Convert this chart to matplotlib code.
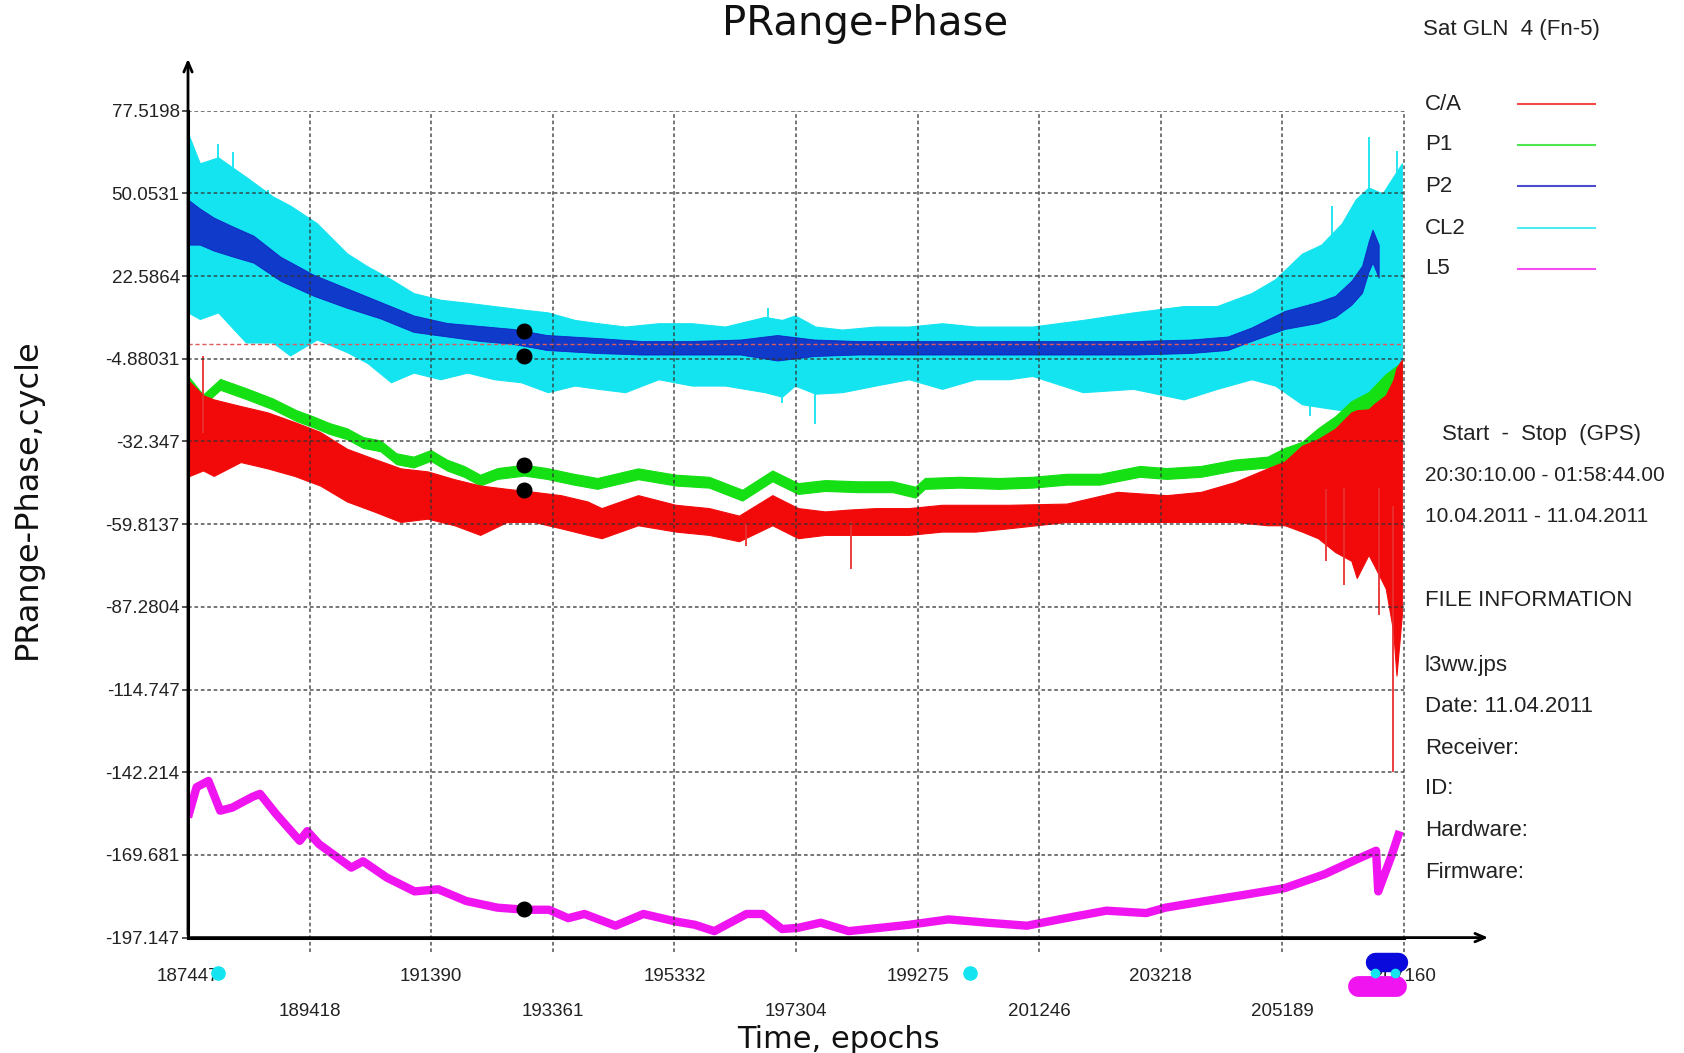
import numpy as np
import matplotlib
matplotlib.use("Agg")
import matplotlib.pyplot as plt

NARROW = ["Liberation Sans Narrow", "Liberation Sans", "DejaVu Sans"]
REGULAR = ["Liberation Sans", "DejaVu Sans"]
WIDE = ["DejaVu Sans"]

# ---------------- axis ticks ----------------
y_ticks = [77.5198, 50.0531, 22.5864, -4.88031, -32.347, -59.8137,
           -87.2804, -114.747, -142.214, -169.681, -197.147]
y_tick_labels = ["77.5198", "50.0531", "22.5864", "-4.88031", "-32.347",
                 "-59.8137", "-87.2804", "-114.747", "-142.214", "-169.681",
                 "-197.147"]
x_ticks = [187447, 189418, 191390, 193361, 195332, 197304, 199275,
           201246, 203218, 205189, 207160]
x_tick_labels = ["187447", "189418", "191390", "193361", "195332", "197304",
                 "199275", "201246", "203218", "205189", "207160"]

# ---------------- CL2 (envelope of the noisy trace) ----------------
cl2_epoch = [187447, 187639, 187935, 188387, 188823, 189101, 189537, 190024,
             190355, 190738, 191104, 191539, 191975, 192410, 192845, 193281,
             193716, 194099, 194534, 195074, 195614, 196154, 196798, 197077,
             197286, 197617, 198052, 198592, 199132, 199672, 200212, 200751,
             201134, 201953, 202771, 203589, 204129, 204687, 205070, 205505,
             205818, 206149, 206376, 206585, 206811, 206968, 207125]
cl2_hi = [70.0, 60.0, 62.0, 55.5, 49.0, 46.0, 40.1, 30.1, 25.8, 21.5, 16.9,
          14.7, 13.7, 12.6, 11.5, 10.5, 8.0, 6.9, 5.8, 6.9, 6.9, 5.8, 9.0,
          8.0, 9.5, 5.8, 4.8, 5.8, 5.8, 6.9, 5.8, 5.8, 5.8, 8.0, 10.5, 12.6,
          12.6, 16.9, 21.5, 30.0, 33.0, 40.0, 48.0, 52.0, 50.0, 55.0, 60.0]
cl2_lo = [10.5, 8.3, 10.5, 0.5, 0.5, -3.8, 1.5, -2.7, -6.3, -12.7, -9.5,
          -11.7, -9.5, -11.7, -12.7, -16.0, -13.8, -14.9, -16.0, -11.7, -13.8,
          -13.8, -16.0, -17.5, -13.8, -16.5, -16.0, -13.8, -11.7, -14.9, -11.7,
          -11.7, -10.6, -16.0, -14.9, -18.4, -14.9, -11.7, -13.8, -20.0, -21.0,
          -22.0, -24.0, -18.4, -22.7, -11.7, -6.3]
# isolated tall excursions of the CL2 trace
cl2_spike_epoch = [187447, 187935, 188178, 188736, 196850, 197077, 197617,
                   205640, 206000, 206376, 206585, 206700, 207040]
cl2_spike_tip = [77.5, 66.5, 63.7, 51.1, 12.0, -19.5, -26.6,
                 -24.0, 46.0, -27.0, 68.6, -26.0, 64.0]

# ---------------- P2 ----------------
p2_epoch = [187447, 187639, 187865, 188178, 188509, 188945, 189484, 190024,
            190564, 191104, 191644, 192183, 192723, 193263, 194082, 194800,
            195600, 196400, 197000, 197600, 198300, 199200, 200100, 201000,
            201900, 202800, 203700, 204300, 204687, 205227, 205766, 206045,
            206306, 206480, 206585, 206650, 206750]
p2_hi = [48, 45, 42, 39, 36, 29, 23, 18.5, 14, 9.5, 7, 6, 5, 3, 2, 1, 1, 1.5,
         3, 1.5, 1, 1, 1, 1, 1, 1, 1.5, 2.5, 5.5, 11, 14, 16, 21, 26, 34, 38,
         33]
p2_lo = [33, 33, 31, 29, 27, 21, 16, 12, 8.5, 4, 2.5, 1, 0, -2, -3, -3.5,
         -3.5, -3.5, -5.5, -4, -3.5, -3.5, -3.5, -3.5, -3.5, -3.5, -3, -2, 1, 5,
         7, 9, 13, 17, 24, 27, 22]

# ---------------- P1 ----------------
p1_epoch = [187447, 187691, 187969, 188405, 188823, 189206, 189484, 189746,
            190024, 190285, 190564, 190825, 191104, 191382, 191644, 191922,
            192183, 192462, 192898, 193263, 193699, 194082, 194743, 195353,
            195893, 196433, 196920, 197338, 197773, 198313, 198871, 199236,
            199393, 199950, 200594, 201134, 201692, 202231, 202876, 203311,
            203869, 204408, 204948, 205227, 205505, 205766, 206045, 206306,
            206585, 206864, 207125]
p1_hi = [-10.6, -16.8, -11.6, -14.8, -18.1, -22.0, -24.1, -26.3, -28.0, -30.9,
         -32.0, -36.3, -37.4, -35.2, -38.4, -40.5, -43.4, -41.2, -40.1, -41.2,
         -43.1, -44.5, -41.3, -43.4, -44.1, -48.4, -42.0, -46.2, -45.2, -45.6,
         -45.6, -47.4, -44.5, -44.1, -44.5, -44.1, -43.1, -43.1, -40.5, -41.2,
         -40.5, -38.4, -37.4, -34.5, -32.5, -28.0, -24.0, -19.0, -16.0, -10.0,
         -6.0]
p1_lo = [-14.2, -20.4, -15.2, -18.4, -21.7, -25.6, -27.7, -29.9, -31.6, -34.5,
         -35.6, -39.9, -41.0, -38.8, -42.0, -44.1, -47.0, -44.8, -43.7, -44.8,
         -46.7, -48.1, -44.9, -47.0, -47.7, -52.0, -45.6, -49.8, -48.8, -49.2,
         -49.2, -51.0, -48.1, -47.7, -48.1, -47.7, -46.7, -46.7, -44.1, -44.8,
         -44.1, -42.0, -41.0, -39.5, -39.3, -37.0, -35.0, -36.0, -37.0, -32.0,
         -28.0]

# ---------------- C/A ----------------
ca_epoch = [187447, 187691, 187865, 188300, 188736, 189171, 189589, 190024,
            190460, 190895, 191330, 191766, 192183, 192619, 193054, 193490,
            193925, 194151, 194743, 195353, 195893, 196380, 196920, 197338,
            197773, 198156, 198592, 199132, 199672, 200212, 200751, 201692,
            202510, 203311, 203869, 204408, 204948, 205227, 205505, 205766,
            206045, 206306, 206394, 206585, 206672, 206864, 206986, 207038,
            207125]
ca_hi = [-12.0, -17.0, -18.4, -20.6, -22.7, -25.9, -29.2, -34.8, -38.1, -41.3,
         -42.3, -44.9, -47.0, -48.1, -49.1, -50.2, -52.3, -54.5, -50.2, -53.4,
         -54.5, -57.0, -50.2, -54.5, -55.6, -55.0, -54.5, -54.5, -53.4, -53.4,
         -53.4, -53.0, -49.1, -50.2, -49.1, -45.9, -41.3, -39.0, -33.8, -31.6,
         -28.1, -22.7, -22.0, -21.7, -20.0, -17.0, -12.0, -8.0, -5.2]
ca_lo = [-44.0, -42.0, -43.8, -39.2, -41.3, -43.8, -47.0, -52.3, -55.6, -59.1,
         -58.0, -60.2, -63.4, -59.1, -59.1, -61.2, -63.4, -64.5, -60.2, -62.3,
         -63.4, -65.5, -60.2, -64.5, -63.4, -63.4, -63.4, -63.4, -62.3, -62.3,
         -61.2, -59.1, -59.1, -59.1, -59.1, -59.1, -60.2, -60.2, -62.3, -64.5,
         -69.1, -72.0, -77.7, -70.0, -73.4, -81.2, -95.5, -110.1, -90.0]
ca_spike_epoch = [187691, 196500, 198190, 205900, 206180, 206760, 206986]
ca_spike_tip = [-4.0, -67.0, -74.8, -72.0, -80.0, -90.0, -142.2]

# ---------------- L5 ----------------
l5_epoch = [187447, 187586, 187778, 187969, 188161, 188492, 188614, 188875,
            189258, 189380, 189571, 190094, 190285, 190669, 191121, 191504,
            191957, 192462, 192915, 193298, 193611, 193873, 194378, 194830,
            195353, 195666, 195980, 196502, 196763, 197077, 197338, 197704,
            198156, 199132, 199776, 200403, 201047, 201570, 202336, 202980,
            203294, 203938, 204583, 205227, 205871, 206324, 206707, 206742,
            206969, 207090]
l5_val = [-157.2, -147.2, -145.1, -155.0, -154.0, -150.4, -149.4, -156.1,
          -165.0, -161.8, -166.1, -173.9, -171.8, -177.2, -181.8, -181.1,
          -185.0, -187.2, -187.9, -187.9, -190.7, -189.3, -193.2, -189.3,
          -191.8, -192.9, -195.0, -189.3, -189.3, -194.3, -193.9, -192.2,
          -195.0, -192.9, -191.1, -192.2, -193.2, -191.1, -188.2, -189.0,
          -187.2, -185.0, -182.9, -180.7, -176.1, -171.8, -168.3, -181.8,
          -169.3, -161.8]

# ---------------- cursor points and event marks ----------------
cursor_epoch = 192898
cursor_vals = [4.3, -3.9, -40.3, -48.6, -187.5]
slip_epoch = [187935, 200124]
slip_val = -208.9
p2_mark_epoch = [206690, 207055]
p2_mark_val = -205.2
l5_mark_epoch = [206410, 207037]
l5_mark_val = -213.2
cl2_mark_epoch = [206690, 207020]
cl2_mark_val = -208.9

series_names = ["C/A", "P1", "P2", "CL2", "L5"]
colors = {"C/A": "#f20a0a", "P1": "#14e014", "P2": "#1010c0",
          "CL2": "#14e4f0", "L5": "#f014f0"}

# ---------------- figure ----------------
W, H = 1684, 1053
fig = plt.figure(figsize=(W / 100, H / 100), dpi=100)
x0, x1, ytop, ybot = 188, 1404, 110.6, 937.6
ax = fig.add_axes([x0 / W, 1 - ybot / H, (x1 - x0) / W, (ybot - ytop) / H])
ax.set_xlim(x_ticks[0], x_ticks[-1])
ax.set_ylim(y_ticks[-1], y_ticks[0])

for s in ("top", "right"):
    ax.spines[s].set_visible(False)
for s in ("left", "bottom"):
    ax.spines[s].set_linewidth(2.2)
    ax.spines[s].set_color("black")
    ax.spines[s].set_zorder(6)

# axis arrows
arrow_kw = dict(arrowstyle="->,head_length=0.7,head_width=0.3", lw=2.0,
                color="black")
ax.annotate("", xy=(0, 1.066), xytext=(0, 0), xycoords="axes fraction",
            textcoords="axes fraction", arrowprops=arrow_kw,
            annotation_clip=False, zorder=7)
ax.annotate("", xy=(1.0715, 0), xytext=(0, 0), xycoords="axes fraction",
            textcoords="axes fraction", arrowprops=arrow_kw,
            annotation_clip=False, zorder=7)


def spikes(epochs, tips, ep, lo, hi, color, z):
    mid = (np.interp(epochs, ep, lo) + np.interp(epochs, ep, hi)) / 2
    ax.vlines(epochs, mid, tips, color=color, lw=1.3, zorder=z)


# series
ax.fill_between(cl2_epoch, cl2_lo, cl2_hi, color=colors["CL2"], lw=0.8,
                edgecolor=colors["CL2"], zorder=2)
spikes(cl2_spike_epoch, cl2_spike_tip, cl2_epoch, cl2_lo, cl2_hi,
       colors["CL2"], 2)
ax.fill_between(p2_epoch, p2_lo, p2_hi, color=colors["P2"], lw=0.6,
                edgecolor=colors["P2"], zorder=2.2, alpha=0.8)
ax.fill_between(p1_epoch, p1_lo, p1_hi, color=colors["P1"], lw=0.8,
                edgecolor=colors["P1"], zorder=2)
ax.fill_between(ca_epoch, ca_lo, ca_hi, color=colors["C/A"], lw=0.8,
                edgecolor=colors["C/A"], zorder=2.3)
spikes(ca_spike_epoch, ca_spike_tip, ca_epoch, ca_lo, ca_hi, "#e83030", 2.3)
ax.plot(l5_epoch, l5_val, color=colors["L5"], lw=6.0, zorder=2,
        solid_joinstyle="round", solid_capstyle="butt")

# grid
grid_kw = dict(color="#333333", lw=1.1, ls=(0, (2.4, 1.8)), zorder=4,
               alpha=0.85)
for v in y_ticks[:-1]:
    ax.axhline(v, **grid_kw)
for v in x_ticks[1:]:
    ax.axvline(v, ymin=-0.018, ymax=1, clip_on=False, **grid_kw)
ax.axhline(0, color="#e05a5a", lw=1.0, ls=(0, (3, 2)), zorder=4)

# cursor dots
ax.plot([cursor_epoch] * len(cursor_vals), cursor_vals, "o", color="black",
        ms=10.5, zorder=5)
# marks beneath the time axis
ax.plot(slip_epoch, [slip_val] * len(slip_epoch), "o", color=colors["CL2"],
        ms=9.5, clip_on=False, zorder=5)
ax.plot(l5_mark_epoch, [l5_mark_val] * 2, color=colors["L5"], lw=15,
        solid_capstyle="round", clip_on=False, zorder=8)
ax.plot(p2_mark_epoch, [p2_mark_val] * 2, color="#0a0adc", lw=14,
        solid_capstyle="round", clip_on=False, zorder=8)
ax.plot(cl2_mark_epoch, [cl2_mark_val] * 2, "o", color=colors["CL2"],
        ms=6, clip_on=False, zorder=9)

# ticks
ax.set_yticks(y_ticks)
ax.set_yticklabels(y_tick_labels)
ax.tick_params(axis="y", length=4, width=1.2, pad=2, color="#333333")
ax.set_xticks(x_ticks[0::2])
ax.set_xticklabels(x_tick_labels[0::2])
ax.set_xticks(x_ticks[1::2], minor=True)
ax.set_xticklabels(x_tick_labels[1::2], minor=True)
ax.tick_params(axis="x", which="both", length=0)
ax.tick_params(axis="x", which="major", pad=22)
ax.tick_params(axis="x", which="minor", pad=47)
for lab in (ax.get_yticklabels() + ax.get_xticklabels()
            + ax.get_xticklabels(minor=True)):
    lab.set_fontfamily(NARROW)
    lab.set_fontsize(13.5)
    lab.set_color("#222222")

# titles and axis labels
fig.text(865 / W, 1 - 24 / H, "PRange-Phase", fontsize=29, family=WIDE,
         ha="center", va="center", color="#111111")
fig.text(838 / W, 1 - 1039 / H, "Time, epochs", fontsize=22, family=WIDE,
         ha="center", va="center", color="#111111")
fig.text(27 / W, 1 - 499 / H, "PRange-Phase,cycle", fontsize=23, family=WIDE,
         ha="center", va="center", rotation=90, color="#111111")

# right-hand panel
fig.text(1423 / W, 1 - 29 / H, "Sat GLN  4 (Fn-5)", fontsize=16,
         family=REGULAR, ha="left", va="center", color="#222222")
legend_y = [104, 145, 186, 228, 268.5]
for name, yy in zip(series_names, legend_y):
    fig.text(1425 / W, 1 - yy / H, name, fontsize=16, family=REGULAR,
             ha="left", va="center", color="#222222")
    fig.add_artist(plt.Line2D([1518 / W, 1595 / W], [1 - yy / H] * 2,
                              color=colors[name], lw=1.5, alpha=0.75))

info_lines = [
    (1442, 435, "Start  -  Stop  (GPS)", 16),
    (1425, 476, "20:30:10.00 - 01:58:44.00", 15),
    (1425, 517, "10.04.2011 - 11.04.2011", 15),
    (1425, 601, "FILE INFORMATION", 16),
    (1425, 665, "l3ww.jps", 16),
    (1425, 707, "Date: 11.04.2011", 16),
    (1425, 748, "Receiver:", 16),
    (1425, 789, "ID:", 16),
    (1425, 830, "Hardware:", 16),
    (1425, 872, "Firmware:", 16),
]
for px, py, txt, fs in info_lines:
    fig.text(px / W, 1 - py / H, txt, fontsize=fs, family=REGULAR,
             ha="left", va="center", color="#222222")

fig.savefig("out.png", dpi=100, facecolor="white")
